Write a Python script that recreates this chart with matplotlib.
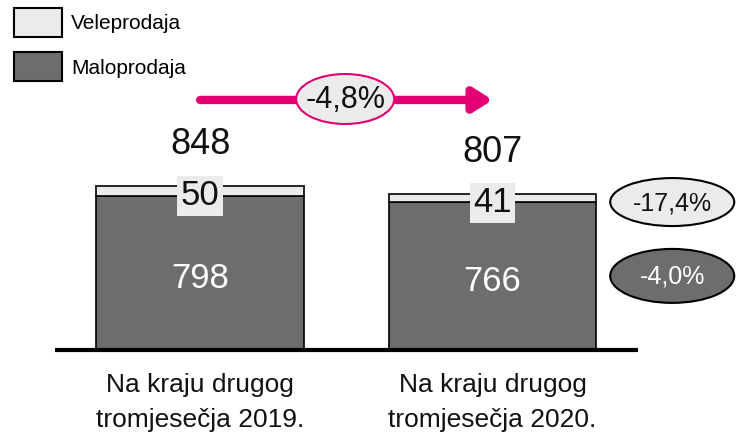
import matplotlib
matplotlib.use('Agg')
import matplotlib.pyplot as plt
from matplotlib.patches import Ellipse, Patch

plt.rcParams['font.family'] = ['Liberation Sans Narrow', 'Liberation Sans', 'DejaVu Sans']

# Data
categories = ['Na kraju drugog\ntromjesečja 2019.', 'Na kraju drugog\ntromjesečja 2020.']
maloprodaja = [798, 766]
veleprodaja = [50, 41]
totals = [848, 807]
total_change = '-4,8%'
series_change = ['-17,4%', '-4,0%']

dark = '#6d6d6d'
light = '#ebebeb'
magenta = '#e20074'

fig = plt.figure(figsize=(7.36, 4.36), dpi=100)
ax = fig.add_axes([0, 0, 1, 1])
ax.set_xlim(-0.684, 1.832)
ax.set_ylim(-445, 1810)
ax.axis('off')

x = list(range(len(categories)))
w = 0.71
ax.bar(x, maloprodaja, width=w, color=dark, edgecolor='black', linewidth=1.2)
ax.bar(x, veleprodaja, width=w, bottom=maloprodaja, color=light, edgecolor='black', linewidth=1.2)

# baseline
ax.plot([-0.496, 1.497], [0, 0], color='black', lw=3, solid_capstyle='butt')

for i in x:
    ax.text(i, maloprodaja[i] / 2 - 30, str(maloprodaja[i]), ha='center', va='center',
            color='white', fontsize=25)
    ax.text(i, maloprodaja[i] + veleprodaja[i] / 2 - 25, str(veleprodaja[i]), ha='center', va='center',
            color='#111111', fontsize=25,
            bbox=dict(boxstyle='square,pad=0.1', fc=light, ec='none'))
    ax.text(i, totals[i] + 125, str(totals[i]), ha='center', va='bottom', color='#111111', fontsize=26)
    ax.text(i, -120, categories[i], ha='center', va='top', fontsize=19, linespacing=1.55, color='#111111')

# total change arrow
ay = 1293
ax.annotate('', xy=(1.0, ay), xytext=(0.0, ay),
            arrowprops=dict(arrowstyle='-|>,head_length=1.1,head_width=0.7', lw=6,
                            color=magenta, shrinkA=0, shrinkB=0))
ax.add_patch(Ellipse((0.496, ay + 5), 98 / 292.5, 50 / 0.1934, fc=light, ec=magenta, lw=1.5, zorder=3))
ax.text(0.496, ay, total_change, ha='center', va='center', fontsize=22, color='#111111', zorder=4)

# per-series change bubbles
ex = 1.614
ax.add_patch(Ellipse((ex, 765), 124 / 292.5, 48 / 0.1934, fc=light, ec='black', lw=1.5))
ax.text(ex, 760, series_change[0], ha='center', va='center', fontsize=18, color='#111111')
ax.add_patch(Ellipse((ex, 383), 124 / 292.5, 54 / 0.1934, fc=dark, ec='black', lw=1.5))
ax.text(ex, 378, series_change[1], ha='center', va='center', fontsize=18, color='white')

handles = [Patch(fc=light, ec='black', lw=1.5, label='Veleprodaja'),
           Patch(fc=dark, ec='black', lw=1.5, label='Maloprodaja')]
fig.legend(handles=handles, loc='upper left', bbox_to_anchor=(-0.004, 1.02), frameon=False,
           fontsize=15, handlelength=2.3, handleheight=1.75, handletextpad=0.45, labelspacing=0.75,
           borderpad=0.3)

fig.savefig('out.png', dpi=100)
